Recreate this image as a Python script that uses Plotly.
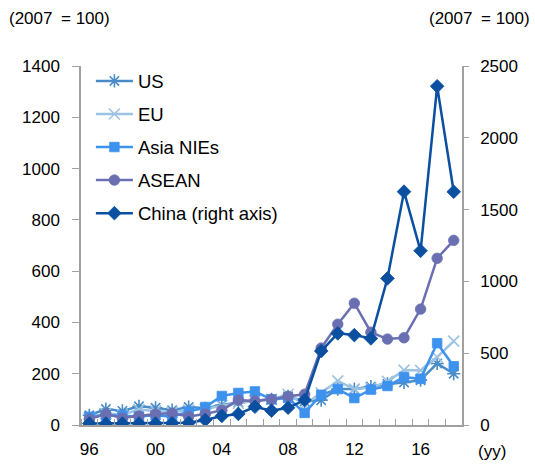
import plotly.graph_objects as go

years = list(range(1996, 2019))
tick_labels = ["96", "00", "04", "08", "12", "16"]
tick_years = [1996, 2000, 2004, 2008, 2012, 2016]

us = [38, 62, 55, 73, 67, 58, 70, 65, 78, 88, 95, 100, 112, 92, 97, 140, 140, 150, 160, 166, 175, 240, 200]
eu = [30, 45, 40, 60, 55, 50, 58, 62, 75, 85, 95, 100, 120, 80, 125, 172, 140, 145, 170, 214, 213, 265, 327]
asia_nies = [32, 38, 36, 33, 38, 32, 52, 70, 113, 125, 131, 100, 105, 47, 118, 140, 105, 138, 152, 187, 180, 319, 229]
asean = [23, 43, 27, 35, 43, 46, 33, 43, 58, 97, 94, 100, 112, 120, 300, 393, 475, 362, 335, 340, 452, 650, 720]
china = [10, 10, 10, 10, 10, 12, 15, 35, 63, 77, 127, 100, 120, 174, 515, 638, 626, 603, 1021, 1625, 1213, 2359, 1624]

FONT = "Liberation Sans, Arial, sans-serif"
AXIS = "#a0a0a0"

fig = go.Figure()

series = [
    ("US", us, "#4a8cc8", "asterisk-open", 11, 1.6, "y"),
    ("EU", eu, "#9dc3e2", "x-thin-open", 11, 1.6, "y"),
    ("Asia NIEs", asia_nies, "#3d92ee", "square", 9.5, 0.8, "y"),
    ("ASEAN", asean, "#6a6fb2", "circle", 10.5, 0.8, "y"),
    ("China (right axis)", china, "#0b4fa0", "diamond", 10.5, 0.8, "y2"),
]

for name, vals, color, sym, size, lw, ax in series:
    fig.add_trace(go.Scatter(
        x=years, y=vals, name=name, yaxis=ax, mode="lines+markers",
        legendgroup=name,
        line=dict(color=color, width=2.5),
        marker=dict(symbol=sym, size=size, color=color,
                    line=dict(color=color, width=lw)),
    ))

fig.update_layout(
    width=535, height=464,
    margin=dict(l=81, r=73, t=66, b=39),
    paper_bgcolor="white", plot_bgcolor="white",
    font=dict(family=FONT, size=17, color="black"),
    showlegend=True,
    legend=dict(x=0.026, y=1.01, xanchor="left", yanchor="top",
                bgcolor="rgba(0,0,0,0)", font=dict(size=18.5),
                traceorder="grouped", tracegroupgap=6,
                itemwidth=37),
    xaxis=dict(
        range=[1995.5, 2018.5], showgrid=False, zeroline=False,
        showline=True, linecolor=AXIS, linewidth=1.5, automargin=False,
        tickmode="array", tickvals=tick_years, ticktext=tick_labels,
        ticks="outside", ticklen=8, tickcolor="rgba(0,0,0,0)",
        tickfont=dict(size=17),
        minor=dict(tickmode="linear", tick0=1995.5, dtick=1,
                   ticks="inside", ticklen=6, tickcolor=AXIS, tickwidth=1),
    ),
    yaxis=dict(
        range=[0, 1400], dtick=200, showgrid=False, zeroline=False,
        showline=True, linecolor=AXIS, linewidth=1.5, automargin=False,
        ticks="outside", ticklen=7, tickcolor=AXIS, tickwidth=1.2,
        tickfont=dict(size=17), ticklabelstandoff=9,
    ),
    yaxis2=dict(
        range=[0, 2500], dtick=500, overlaying="y", side="right",
        showgrid=False, zeroline=False, automargin=False,
        showline=True, linecolor=AXIS, linewidth=1.5,
        ticks="outside", ticklen=5, tickcolor=AXIS, tickwidth=1.2,
        tickfont=dict(size=17), ticklabelstandoff=8,
    ),
    annotations=[
        dict(text="(2007\u2002= 100)", xref="paper", yref="paper",
             x=(7 - 81) / 381, y=(425 - 18) / 359, xanchor="left", yanchor="middle",
             showarrow=False, font=dict(size=17)),
        dict(text="(2007\u2002= 100)", xref="paper", yref="paper",
             x=(532 - 81) / 381, y=(425 - 18) / 359, xanchor="right", yanchor="middle",
             showarrow=False, font=dict(size=17)),
        dict(text="(yy)", xref="paper", yref="paper",
             x=(476 - 81) / 381, y=(425 - 451) / 359, xanchor="left", yanchor="middle",
             showarrow=False, font=dict(size=17)),
    ],
)

fig.write_html("out.html")
